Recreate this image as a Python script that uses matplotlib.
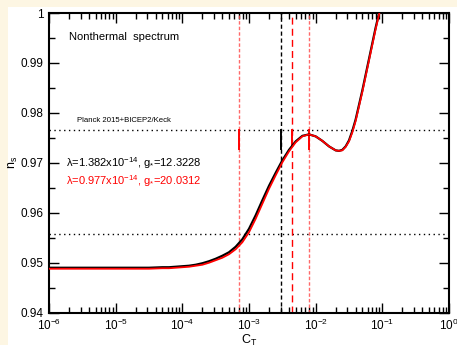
import numpy as np
import matplotlib
matplotlib.use("Agg")
import matplotlib.pyplot as plt
from matplotlib.ticker import LogLocator, MultipleLocator
from matplotlib.patches import Rectangle

plt.rcParams['font.family'] = ['Liberation Sans', 'DejaVu Sans']
plt.rcParams['mathtext.fontset'] = 'custom'
plt.rcParams['mathtext.rm'] = 'Liberation Sans'
plt.rcParams['mathtext.it'] = 'Liberation Sans:italic'
plt.rcParams['mathtext.default'] = 'regular'

# ---- data ----
logC_black = [-6, -5, -4.5, -4.3, -4.2, -4.1, -4.0, -3.9, -3.8, -3.7, -3.6, -3.5, -3.4,
              -3.3, -3.2, -3.1, -3.0, -2.9, -2.8, -2.7, -2.6, -2.5, -2.4, -2.3, -2.2,
              -2.1, -2.0, -1.9, -1.8, -1.7, -1.65, -1.6, -1.55, -1.5, -1.45, -1.4,
              -1.3, -1.2, -1.1, -1.04]
ns_black = [0.9490, 0.9490, 0.9490, 0.9491, 0.9491, 0.9492, 0.9493, 0.9494, 0.9496, 0.9499,
            0.9503, 0.9508, 0.9514, 0.9521, 0.9532, 0.9547, 0.9568, 0.9595, 0.9625, 0.9654,
            0.9680, 0.9705, 0.9726, 0.9743, 0.9754, 0.9757, 0.9753, 0.9744, 0.9733, 0.9725,
            0.9724, 0.9726, 0.9733, 0.9745, 0.9764, 0.9787, 0.9845, 0.9908, 0.9971, 1.0005]
logC_red = [-6, -5, -4.5, -4.3, -4.2, -4.1, -4.0, -3.9, -3.8, -3.7, -3.6, -3.5, -3.4,
            -3.3, -3.2, -3.1, -3.0, -2.9, -2.8, -2.7, -2.6, -2.5, -2.4, -2.3, -2.2,
            -2.1, -2.0, -1.9, -1.8, -1.7, -1.65, -1.6, -1.55, -1.5, -1.45, -1.4,
            -1.3, -1.2, -1.1, -1.04]
ns_red = [0.9488, 0.9488, 0.9488, 0.9489, 0.9489, 0.9490, 0.9491, 0.9492, 0.9494, 0.9496,
          0.9500, 0.9505, 0.9510, 0.9517, 0.9527, 0.9541, 0.9561, 0.9588, 0.9618, 0.9648,
          0.9675, 0.9701, 0.9723, 0.9741, 0.9753, 0.9757, 0.9753, 0.9744, 0.9733, 0.9725,
          0.9724, 0.9725, 0.9732, 0.9743, 0.9761, 0.9784, 0.9842, 0.9905, 0.9968, 1.0002]

planck_bounds = [0.9765, 0.9557]
vline_black = [3.05e-3]
vline_red_dashed = [4.36e-3]
vline_red_light = [7.1e-4, 7.85e-3]

# ---- figure ----
fig = plt.figure(figsize=(4.57, 3.45), dpi=100)
fig.patch.set_facecolor('#fdf6e3')
fig.patches.append(Rectangle((8/457, 0), 1, (345-7)/345, transform=fig.transFigure,
                             facecolor='white', edgecolor='none', zorder=-10))
ax = fig.add_axes([49/457, 1-312.7/345, 400/457, (312.7-13)/345])
ax.set_facecolor('white')

ax.plot(10**np.array(logC_black), ns_black, color='black', lw=1.6, zorder=4)
ax.plot(10**np.array(logC_red), ns_red, color='red', lw=1.3, zorder=5)

for y in planck_bounds:
    ax.axhline(y, color='black', lw=1.0, ls=(0, (1, 2.5)), zorder=2)
for x in vline_black:
    ax.axvline(x, color='black', lw=1.0, ls=(0, (3, 2)), zorder=2)
    ax.plot([x, x], [0.9727, 0.9765], color='black', lw=1.4, zorder=3)
for x in vline_red_dashed:
    ax.axvline(x, color='red', lw=1.0, ls=(0, (5, 3)), zorder=2)
    ax.plot([x, x], [0.9735, 0.9765], color='red', lw=1.4, zorder=3)
for x in vline_red_light:
    ax.axvline(x, color='#ff5050', lw=1.0, ls=(0, (2.5, 1.5)), alpha=0.85, zorder=2)
    ax.plot([x, x], [0.9727, 0.9765], color='red', lw=1.4, zorder=3)

ax.set_xscale('log')
ax.set_xlim(1e-6, 1)
ax.set_ylim(0.94, 1.0)

ax.set_xticks([1e-6, 1e-5, 1e-4, 1e-3, 1e-2, 1e-1, 1])
ax.set_xticklabels([r'10$^{-6}$', r'10$^{-5}$', r'10$^{-4}$', r'10$^{-3}$',
                    r'10$^{-2}$', r'10$^{-1}$', r'10$^{0}$'])
ax.xaxis.set_minor_locator(LogLocator(base=10, subs=np.arange(2, 10), numticks=20))
ax.set_yticks([0.94, 0.95, 0.96, 0.97, 0.98, 0.99, 1.0])
ax.set_yticklabels(['0.94', '0.95', '0.96', '0.97', '0.98', '0.99', '1'])
ax.yaxis.set_minor_locator(MultipleLocator(0.005))

ax.tick_params(which='both', direction='in', top=True, right=True, labelsize=8.5,
               width=1.0, color='black')
ax.tick_params(which='major', length=7, pad=4)
ax.tick_params(which='minor', length=4)
for s in ax.spines.values():
    s.set_linewidth(1.5)

ax.set_xlabel(r'C$_T$', fontsize=9, va='center')
ax.xaxis.set_label_coords(0.5, -0.093)
ax.set_ylabel(r'n$_s$', fontsize=9, va='center')
ax.yaxis.set_label_coords(-0.088, 0.5)

fig.text(69/457, 1-37/345, 'Nonthermal  spectrum', fontsize=8, va='center')
ax.text(0.07, 0.9765 + 0.0012, 'Planck 2015+BICEP2/Keck', transform=ax.get_yaxis_transform(),
        fontsize=5.6, va='bottom')
ax.text(0.043, 0.9699, r'λ=1.382x10$^{-14}$, g$_{*}$=12.3228', transform=ax.get_yaxis_transform(),
        fontsize=8, va='center', color='black')
ax.text(0.043, 0.9664, r'λ=0.977x10$^{-14}$, g$_{*}$=20.0312', transform=ax.get_yaxis_transform(),
        fontsize=8, va='center', color='red')

fig.savefig('out.png', dpi=100, facecolor=fig.get_facecolor())
